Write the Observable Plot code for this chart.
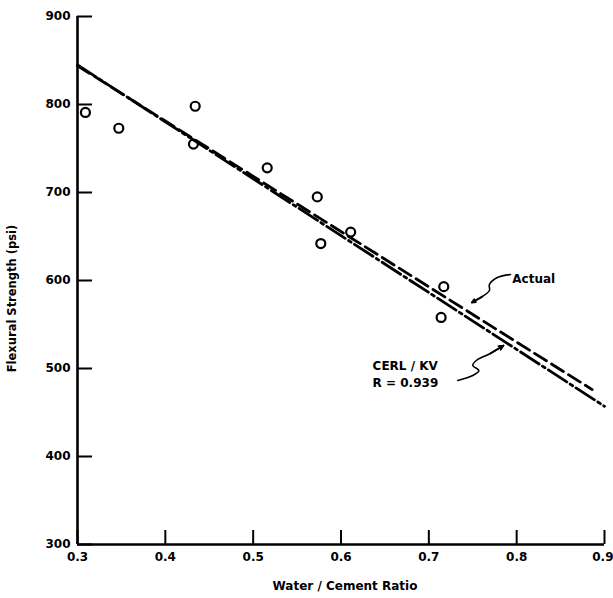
<!DOCTYPE html>
<html><head><meta charset="utf-8">
<script src="https://cdn.jsdelivr.net/npm/d3@7"></script>
<script src="https://cdn.jsdelivr.net/npm/@observablehq/plot@0.6"></script>
<style>body{margin:0;background:#fff}</style>
</head><body><div id="chart"></div>
<script>
// Measured points (water/cement ratio vs flexural strength, psi)
const ratio    = [0.309, 0.347, 0.434, 0.432, 0.516, 0.573, 0.577, 0.611, 0.717, 0.714];
const strength = [791,   773,   798,   755,   728,   695,   642,   655,   593,   558];

// Fitted lines
const cerlX   = [0.3, 0.9];
const cerlY   = [845, 457];
const actualX = [0.3, 0.886];
const actualY = [844, 476];

// Tick values
const xTicks = [0.3, 0.4, 0.5, 0.6, 0.7, 0.8, 0.9];
const yTicks = [300, 400, 500, 600, 700, 800, 900];

// Annotations
const noteText = ["Actual", "CERL / KV", "R = 0.939"];
const noteX    = [0.795, 0.636, 0.636];
const noteY    = [601, 503, 483];
// wavy leader lines (data units)
const actualLeadX = [0.793, 0.778, 0.769, 0.769, 0.761, 0.749];
const actualLeadY = [606.8, 603.4, 595.5, 588.6, 581.8, 575];
const cerlLeadX   = [0.733, 0.750, 0.757, 0.750, 0.754, 0.770, 0.785];
const cerlLeadY   = [486.4, 492.0, 497.7, 503.4, 509.1, 517.0, 526.1];

const points = ratio.map((r, i) => ({r, s: strength[i]}));
const cerl = cerlX.map((x, i) => ({x, y: cerlY[i]}));
const actual = actualX.map((x, i) => ({x, y: actualY[i]}));
const notes = noteText.map((t, i) => ({t, x: noteX[i], y: noteY[i]}));
const leads = [
  ...actualLeadX.map((x, i) => ({g: "a", x, y: actualLeadY[i]})),
  ...cerlLeadX.map((x, i) => ({g: "c", x, y: cerlLeadY[i]}))
];
const heads = [
  {x1: actualLeadX[4], y1: actualLeadY[4], x2: actualLeadX[5], y2: actualLeadY[5]},
  {x1: cerlLeadX[5], y1: cerlLeadY[5], x2: cerlLeadX[6], y2: cerlLeadY[6]}
];
const fmt = d3.format(".1f");

const chart = Plot.plot({
  width: 613, height: 598,
  marginLeft: 77, marginRight: 9, marginTop: 16, marginBottom: 54,
  style: {fontFamily: "DejaVu Sans", fontSize: "12px", fontWeight: "bold", background: "white", color: "black"},
  x: {domain: [0.3, 0.9]},
  y: {domain: [300, 900]},
  marks: [
    Plot.axisY({ticks: yTicks, tickSize: 0, tickPadding: 7, label: null, fontSize: 12, letterSpacing: 0.8}),
    Plot.axisY({ticks: yTicks, tickSize: -15, fill: "none", label: null, strokeWidth: 2}),
    Plot.axisX({ticks: xTicks.slice(0, -1), tickSize: 0, tickPadding: 8, tickFormat: fmt, label: null, fontSize: 12, letterSpacing: 0.8}),
    Plot.axisX({ticks: xTicks.slice(-1), tickSize: 0, tickPadding: 8, tickFormat: fmt, label: null, fontSize: 12, letterSpacing: 0.8, textAnchor: "end", dx: 9}),
    Plot.axisX({ticks: xTicks, tickSize: -14, fill: "none", label: null, strokeWidth: 2}),
    Plot.ruleX([0.3], {strokeWidth: 2.6}),
    Plot.ruleY([300], {strokeWidth: 2.6}),
    Plot.line(actual, {x: "x", y: "y", strokeWidth: 2.8, strokeDasharray: "14,6"}),
    Plot.line(cerl, {x: "x", y: "y", strokeWidth: 2.8, strokeDasharray: "22,4,3,4"}),
    Plot.dot(points, {x: "r", y: "s", r: 4.5, strokeWidth: 2.2, stroke: "black", fill: "none"}),
    Plot.text(notes, {x: "x", y: "y", text: "t", textAnchor: "start", fontSize: 12, letterSpacing: 0.6}),
    Plot.line(leads, {x: "x", y: "y", z: "g", curve: "catmull-rom", strokeWidth: 1.6}),
    Plot.arrow(heads, {x1: "x1", y1: "y1", x2: "x2", y2: "y2", strokeWidth: 1.8, headLength: 8, headAngle: 50}),
    Plot.text(["Flexural Strength (psi)"], {frameAnchor: "left", textAnchor: "middle", lineAnchor: "middle", rotate: -90, dx: -65, dy: 18, fontSize: 11.5, letterSpacing: 0.8}),
    Plot.text(["Water / Cement Ratio"], {frameAnchor: "bottom", textAnchor: "middle", lineAnchor: "middle", dx: 4, dy: 42, fontSize: 12, letterSpacing: 1.2})
  ]
});
document.getElementById("chart").append(chart);
</script>
</body></html>
